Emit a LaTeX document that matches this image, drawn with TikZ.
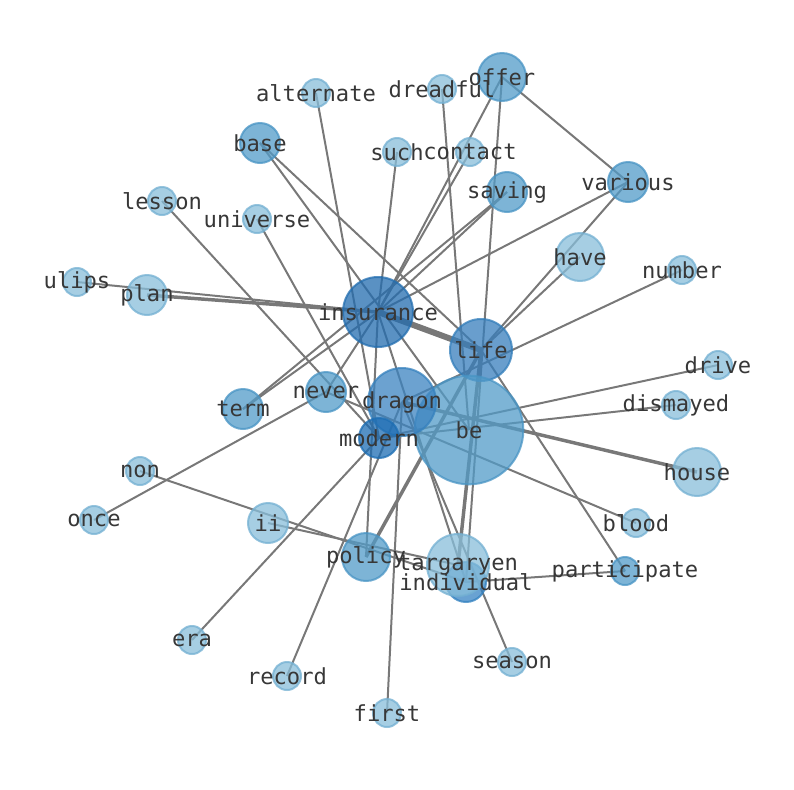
\documentclass[tikz,border=0pt]{standalone}
\usepackage{fontspec}
\setmonofont{DejaVu Sans Mono}
\usetikzlibrary{backgrounds}
\definecolor{clight}{RGB}{136,190,218}
\definecolor{cmed}{RGB}{82,155,200}
\definecolor{cins}{RGB}{35,108,175}
\definecolor{clife}{RGB}{55,126,188}
\definecolor{cdrag}{RGB}{59,131,192}
\definecolor{cmod}{RGB}{28,108,179}
\definecolor{cind}{RGB}{55,131,195}
\definecolor{tabblue}{RGB}{31,119,180}
\definecolor{edgegray}{RGB}{120,120,120}
\definecolor{txt}{RGB}{55,55,55}
\begin{document}
\begin{tikzpicture}[x=0.75pt,y=-0.75pt,
  vtx/.style={circle,inner sep=0pt,line width=1.5pt,fill opacity=0.75,draw opacity=0.75},
  vlight/.style={vtx,fill=clight,draw=clight!80!tabblue},
  vmed/.style={vtx,fill=cmed,draw=cmed!80!tabblue},
  rs/.style={minimum size=21pt},
  rm/.style={minimum size=30pt},
  rl/.style={minimum size=36pt},
  rxl/.style={minimum size=46.5pt},
  rxxl/.style={minimum size=52pt},
  lbl/.style={inner sep=0pt,text=txt,font=\ttfamily\fontsize{16.6}{18}\selectfont},
  edge/.style={draw=edgegray,line width=1.5pt},
  wedge/.style={draw=edgegray,line width=2.6pt},
  hedge/.style={draw=edgegray,line width=4.5pt}]
\useasboundingbox (0,0) rectangle (794,790);

% nodes (circles)
\node[vmed,rl] (offer) at (502,77) {};
\node[vlight,rs] (dreadful) at (442,89) {};
\node[vlight,rs] (alternate) at (316,93) {};
\node[vmed,rm] (base) at (260,143) {};
\node[vlight,rs] (such) at (397,152) {};
\node[vlight,rs] (contact) at (470,152) {};
\node[vmed,rm] (saving) at (507,192) {};
\node[vmed,rm] (various) at (628,182) {};
\node[vlight,rs] (lesson) at (162,201) {};
\node[vlight,rs] (universe) at (257,219) {};
\node[vlight,rl] (have) at (580,257) {};
\node[vlight,rs] (number) at (682,270) {};
\node[vlight,rs] (ulips) at (77,282) {};
\node[vlight,rm] (plan) at (147,295) {};
\node[vtx,rxxl,minimum size=52.5pt,fill=cins,draw=cins!80!tabblue] (insurance) at (378,312) {};
\node[vtx,rxl,fill=clife,draw=clife!80!tabblue] (life) at (481,350) {};
\node[vlight,rs] (drive) at (718,365) {};
\node[vmed,rm] (never) at (326,392) {};
\node[vmed,rm] (term) at (243,409) {};
\node[vlight,rs] (dismayed) at (676,405) {};
\node[vmed,minimum size=81.5pt] (be) at (469,430) {};
\node[vtx,rxxl,minimum size=51pt,fill=cdrag,draw=cdrag!80!tabblue] (dragon) at (402,402) {};
\node[vtx,rm,fill=cmod,draw=cmod!80!tabblue] (modern) at (379,438) {};
\node[vlight,rl] (house) at (697,472) {};
\node[vlight,rs] (non) at (140,471) {};
\node[vlight,rs] (once) at (94,520) {};
\node[vlight,rm] (ii) at (268,523) {};
\node[vlight,rs] (blood) at (636,523) {};
\node[vmed,rl] (policy) at (366,557) {};
\node[vtx,rm,fill=cind,draw=cind!80!tabblue] (individual) at (466,582) {};
\node[vlight,rxl] (targaryen) at (458,565) {};
\node[vmed,rs] (participate) at (625,571) {};
\node[vlight,rs] (era) at (192,640) {};
\node[vlight,rs] (record) at (287,676) {};
\node[vlight,rs] (season) at (512,662) {};
\node[vlight,rs] (first) at (387,713) {};

% edges (behind nodes)
\begin{pgfonlayer}{background}
\draw[hedge] (insurance.center) -- (life.center);
\draw[wedge] (insurance.center) -- (plan.center);
\draw[edge] (insurance.center) -- (ulips.center);
\draw[edge] (insurance.center) -- (offer.center);
\draw[edge] (insurance.center) -- (contact.center);
\draw[edge] (insurance.center) -- (such.center);
\draw[edge] (insurance.center) -- (saving.center);
\draw[edge] (insurance.center) -- (various.center);
\draw[edge] (insurance.center) -- (never.center);
\draw[edge] (insurance.center) -- (term.center);
\draw[edge] (insurance.center) -- (policy.center);
\draw[edge] (insurance.center) -- (individual.center);
\draw[edge] (offer.center) -- (various.center);
\draw[edge] (offer.center) -- (individual.center);
\draw[edge] (dreadful.center) -- (be.center);
\draw[edge] (alternate.center) -- (modern.center);
\draw[edge] (base.center) -- (life.center);
\draw[edge] (base.center) -- (be.center);
\draw[edge] (lesson.center) -- (modern.center);
\draw[edge] (universe.center) -- (modern.center);
\draw[edge] (saving.center) -- (term.center);
\draw[edge] (various.center) -- (life.center);
\draw[edge] (have.center) -- (life.center);
\draw[edge] (number.center) -- (dragon.center);
\draw[edge] (drive.center) -- (modern.center);
\draw[edge] (dismayed.center) -- (modern.center);
\draw[wedge] (house.center) -- (dragon.center);
\draw[edge] (never.center) -- (blood.center);
\draw[edge] (never.center) -- (once.center);
\draw[edge] (participate.center) -- (individual.center);
\draw[edge] (participate.center) -- (life.center);
\draw[edge] (season.center) -- (dragon.center);
\draw[edge] (first.center) -- (dragon.center);
\draw[edge] (record.center) -- (dragon.center);
\draw[edge] (era.center) -- (modern.center);
\draw[edge] (non.center) -- (individual.center);
\draw[edge] (ii.center) -- (targaryen.center);
\draw[wedge] (policy.center) -- (life.center);
\draw[wedge] (life.center) -- (targaryen.center);
\end{pgfonlayer}

% labels
\foreach \n in {offer,dreadful,alternate,base,such,contact,saving,various,lesson,universe,have,number,ulips,plan,insurance,life,drive,never,term,dismayed,be,dragon,modern,house,non,once,ii,blood,policy,individual,targaryen,participate,era,record,season,first}
  \node[lbl] at (\n) {\n};
\end{tikzpicture}
\end{document}
